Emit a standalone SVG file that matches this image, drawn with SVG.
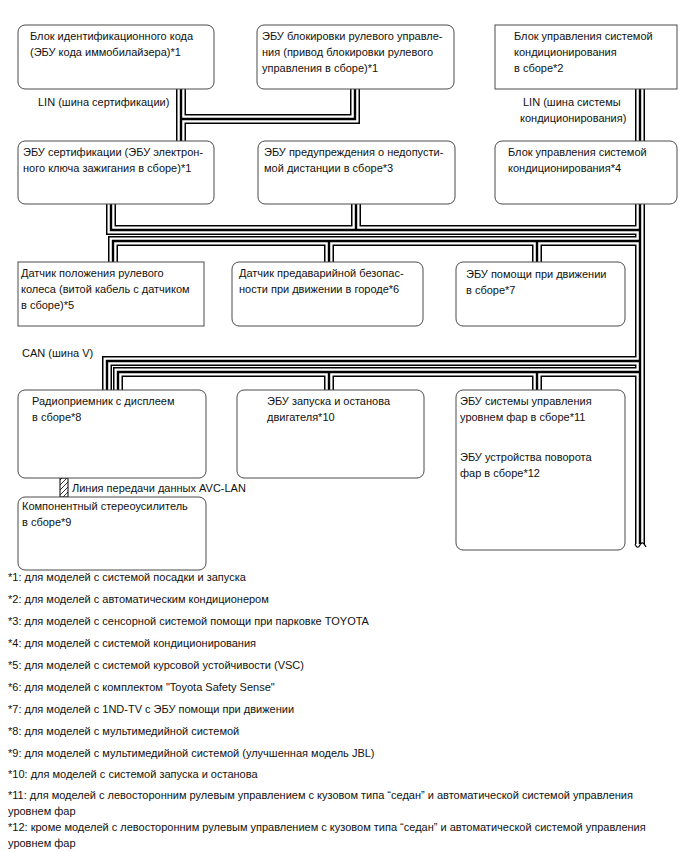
<svg xmlns="http://www.w3.org/2000/svg" width="688" height="852" viewBox="0 0 688 852">
<style>
text{font-family:"Liberation Sans",Arial,sans-serif;font-size:11px;fill:#111}
.box{fill:#fff;stroke:#4a4a4a;stroke-width:1}
.po{fill:none;stroke:#000;stroke-width:10}
.pw{fill:none;stroke:#fff;stroke-width:7}
.pc{fill:none;stroke:#000;stroke-width:2.4}
</style>
<defs>
<path id="lin1" d="M181,89 V141 M355,89 V119 H181"/>
<path id="lin2" d="M640,89 V141"/>
<path id="can" d="M640,204 V544 M111,204 V230 H640 M356,204 V230 M113,262 V241 H640 M329,241 V262 M537,241 V262 M107,390 V361 H640 M118,390 V372 H640 M329,372 V390 M537,372 V390"/>
<pattern id="hatch" patternUnits="userSpaceOnUse" width="5" height="5">
<path d="M-1,6 L6,-1 M-1,1 L1,-1 M4,6 L6,4" stroke="#000" stroke-width="0.8"/>
</pattern>
</defs>

<g id="connectors">
<use href="#lin1" class="po"/><use href="#lin1" class="pw"/><use href="#lin1" class="pc"/>
<use href="#lin2" class="po"/><use href="#lin2" class="pw"/><use href="#lin2" class="pc"/>
<use href="#can" class="po"/><use href="#can" class="pw"/><use href="#can" class="pc"/>
<path d="M635,544 Q637.5,550 640,545 Q642.5,540 646,547" fill="none" stroke="#000" stroke-width="1.2"/>
<rect x="60" y="478" width="8" height="19" fill="url(#hatch)" stroke="#000" stroke-width="1"/>
<text x="38" y="106">LIN (шина сертификации)</text>
<text x="523" y="106">LIN (шина системы</text>
<text x="520" y="122">кондиционирования)</text>
<text x="22" y="357">CAN (шина V)</text>
<text x="72" y="492">Линия передачи данных AVC-LAN</text>
</g>

<g id="nodeA">
<rect class="box" x="18" y="25" width="196" height="64" rx="7"/>
<text x="30" y="40">Блок идентификационного кода</text>
<text x="30" y="56">(ЭБУ кода иммобилайзера)*1</text>
</g>
<g id="nodeB">
<rect class="box" x="257" y="25" width="197" height="64" rx="7"/>
<text x="262" y="40">ЭБУ блокировки рулевого управле-</text>
<text x="262" y="56">ния (привод блокировки рулевого</text>
<text x="262" y="72">управления в сборе)*1</text>
</g>
<g id="nodeC">
<rect class="box" x="495" y="25" width="182" height="64"/>
<text x="514" y="40">Блок управления системой</text>
<text x="514" y="56">кондиционирования</text>
<text x="514" y="72">в сборе*2</text>
</g>
<g id="nodeD">
<rect class="box" x="18" y="141" width="196" height="63" rx="7"/>
<text x="23" y="156">ЭБУ сертификации (ЭБУ электрон-</text>
<text x="23" y="172">ного ключа зажигания в сборе)*1</text>
</g>
<g id="nodeE">
<rect class="box" x="258" y="141" width="197" height="63" rx="7"/>
<text x="264" y="156">ЭБУ предупреждения о недопусти-</text>
<text x="264" y="172">мой дистанции в сборе*3</text>
</g>
<g id="nodeF">
<rect class="box" x="495" y="141" width="182" height="63" rx="7"/>
<text x="508" y="156">Блок управления системой</text>
<text x="508" y="172">кондиционирования*4</text>
</g>
<g id="nodeG">
<rect class="box" x="18" y="262" width="186" height="64"/>
<text x="21" y="277">Датчик положения рулевого</text>
<text x="21" y="293">колеса (витой кабель с датчиком</text>
<text x="21" y="309">в сборе)*5</text>
</g>
<g id="nodeH">
<rect class="box" x="232" y="262" width="191" height="64" rx="7"/>
<text x="239" y="277">Датчик предаварийной безопас-</text>
<text x="239" y="293">ности при движении в городе*6</text>
</g>
<g id="nodeI">
<rect class="box" x="456" y="262" width="169" height="64" rx="7"/>
<text x="466" y="278">ЭБУ помощи при движении</text>
<text x="466" y="294">в сборе*7</text>
</g>
<g id="nodeJ">
<rect class="box" x="18" y="390" width="188" height="88" rx="7"/>
<text x="32" y="405">Радиоприемник с дисплеем</text>
<text x="32" y="421">в сборе*8</text>
</g>
<g id="nodeK">
<rect class="box" x="237" y="390" width="187" height="88" rx="7"/>
<text x="267" y="405">ЭБУ запуска и останова</text>
<text x="267" y="421">двигателя*10</text>
</g>
<g id="nodeL">
<rect class="box" x="456" y="390" width="169" height="160" rx="7"/>
<text x="460" y="405">ЭБУ системы управления</text>
<text x="460" y="421">уровнем фар в сборе*11</text>
<text x="460" y="461">ЭБУ устройства поворота</text>
<text x="460" y="477">фар в сборе*12</text>
</g>
<g id="nodeM">
<rect class="box" x="18" y="497" width="188" height="73" rx="7"/>
<text x="22" y="510">Компонентный стереоусилитель</text>
<text x="22" y="526">в сборе*9</text>
</g>

<g id="notes">
<text x="8" y="581">*1: для моделей с системой посадки и запуска</text>
<text x="8" y="603">*2: для моделей с автоматическим кондиционером</text>
<text x="8" y="625">*3: для моделей с сенсорной системой помощи при парковке TOYOTA</text>
<text x="8" y="647">*4: для моделей с системой кондиционирования</text>
<text x="8" y="669">*5: для моделей с системой курсовой устойчивости (VSC)</text>
<text x="8" y="691">*6: для моделей с комплектом "Toyota Safety Sense"</text>
<text x="8" y="713">*7: для моделей с 1ND-TV с ЭБУ помощи при движении</text>
<text x="8" y="735">*8: для моделей с мультимедийной системой</text>
<text x="8" y="757">*9: для моделей с мультимедийной системой (улучшенная модель JBL)</text>
<text x="8" y="778">*10: для моделей с системой запуска и останова</text>
<text x="8" y="799">*11: для моделей с левосторонним рулевым управлением с кузовом типа “седан” и автоматической системой управления</text>
<text x="8" y="815">уровнем фар</text>
<text x="8" y="831">*12: кроме моделей с левосторонним рулевым управлением с кузовом типа “седан” и автоматической системой управления</text>
<text x="8" y="847">уровнем фар</text>
</g>
</svg>
